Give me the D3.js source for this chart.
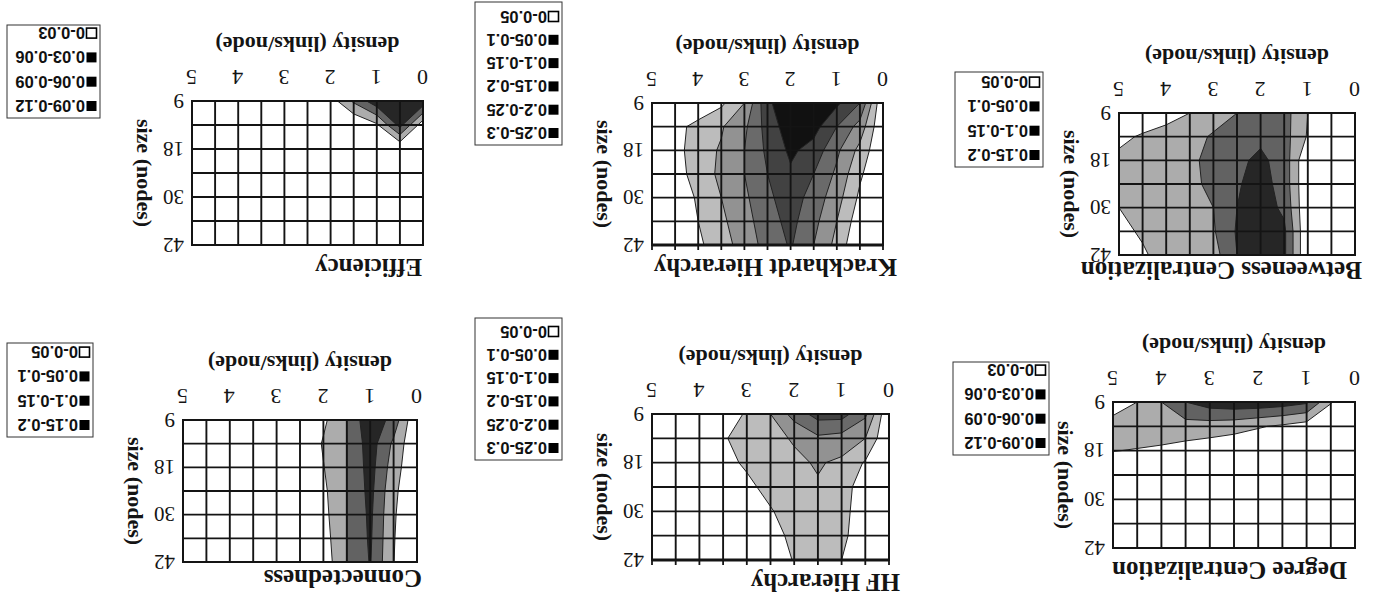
<!DOCTYPE html>
<html>
<head>
<meta charset="utf-8">
<script src="https://cdn.jsdelivr.net/npm/d3@7"></script>
<style>
  html, body { margin: 0; padding: 0; background: #ffffff; }
  svg { display: block; }
</style>
</head>
<body>
<svg id="fig" width="1376" height="607"></svg>
<script>
// Grid of the simulation: link density (links/node) by network size (nodes)
const densities = [0, 0.5, 1, 1.5, 2, 2.5, 3, 3.5, 4, 4.5, 5];
const densityTicks = [0, 1, 2, 3, 4, 5];
const sizes = ["9", "12", "18", "24", "30", "36", "42"];
const sizeTicks = ["9", "18", "30", "42"];

// Each row is one size (9 first), each column one density (0 first)
const degreeValues = [
  [0, 0.032, 0.095, 0.105, 0.11, 0.11, 0.105, 0.09, 0.06, 0.03, 0.005],
  [0, 0.005, 0.015, 0.025, 0.033, 0.042, 0.046, 0.048, 0.05, 0.05, 0.05],
  [0, 0, 0, 0, 0, 0.005, 0.012, 0.018, 0.024, 0.028, 0.031],
  [0, 0, 0, 0, 0, 0, 0, 0, 0, 0, 0],
  [0, 0, 0, 0, 0, 0, 0, 0, 0, 0, 0],
  [0, 0, 0, 0, 0, 0, 0, 0, 0, 0, 0],
  [0, 0, 0, 0, 0, 0, 0, 0, 0, 0, 0]
];
const degreeThresholds = [0.03, 0.06, 0.09];
const degreeBands = ["0-0.03", "0.03-0.06", "0.06-0.09", "0.09-0.12"];

const hfValues = [
  [0, 0.16, 0.22, 0.22, 0.17, 0.10, 0.06, 0, 0, 0, 0],
  [0, 0.10, 0.13, 0.14, 0.105, 0.085, 0.07, 0.045, 0, 0, 0],
  [0, 0.045, 0.09, 0.105, 0.09, 0.08, 0.06, 0.03, 0, 0, 0],
  [0, 0.02, 0.075, 0.095, 0.085, 0.07, 0.035, 0, 0, 0, 0],
  [0, 0.015, 0.07, 0.09, 0.08, 0.045, 0, 0, 0, 0, 0],
  [0, 0.01, 0.065, 0.085, 0.07, 0.02, 0, 0, 0, 0, 0],
  [0, 0, 0.05, 0.08, 0.055, 0, 0, 0, 0, 0, 0]
];
const hfThresholds = [0.05, 0.1, 0.15, 0.2, 0.25];
const hfBands = ["0-0.05", "0.05-0.1", "0.1-0.15", "0.15-0.2", "0.2-0.25", "0.25-0.3"];

const connValues = [
  [0, 0.13, 0.19, 0.10, 0.04, 0, 0, 0, 0, 0, 0],
  [0, 0.09, 0.175, 0.099, 0.055, 0, 0, 0, 0, 0, 0],
  [0, 0.075, 0.17, 0.099, 0.048, 0, 0, 0, 0, 0, 0],
  [0, 0.062, 0.165, 0.099, 0.04, 0, 0, 0, 0, 0, 0],
  [0, 0.056, 0.16, 0.099, 0.035, 0, 0, 0, 0, 0, 0],
  [0, 0.053, 0.157, 0.099, 0.028, 0, 0, 0, 0, 0, 0],
  [0, 0.051, 0.153, 0.099, 0.02, 0, 0, 0, 0, 0, 0]
];
const connThresholds = [0.05, 0.1, 0.15];
const connBands = ["0-0.05", "0.05-0.1", "0.1-0.15", "0.15-0.2"];

const betwValues = [
  [0, 0, 0.05, 0.12, 0.13, 0.10, 0.08, 0.05, 0.035, 0.02, 0],
  [0, 0, 0.045, 0.12, 0.14, 0.125, 0.105, 0.085, 0.065, 0.055, 0.04],
  [0, 0, 0, 0.13, 0.16, 0.14, 0.115, 0.09, 0.075, 0.07, 0.06],
  [0, 0, 0, 0.13, 0.17, 0.145, 0.11, 0.09, 0.08, 0.07, 0.06],
  [0, 0, 0, 0.14, 0.175, 0.15, 0.10, 0.085, 0.075, 0.062, 0.05],
  [0, 0, 0, 0.16, 0.18, 0.155, 0.095, 0.08, 0.07, 0.055, 0.04],
  [0, 0, 0, 0.16, 0.18, 0.15, 0.08, 0.075, 0.065, 0.045, 0.035]
];
const betwThresholds = [0.05, 0.1, 0.15];
const betwBands = ["0-0.05", "0.05-0.1", "0.1-0.15", "0.15-0.2"];

const krackValues = [
  [0, 0.2, 0.26, 0.29, 0.29, 0.24, 0.10, 0.04, 0, 0, 0],
  [0, 0.13, 0.2, 0.27, 0.28, 0.22, 0.14, 0.095, 0.07, 0.03, 0],
  [0, 0.085, 0.16, 0.23, 0.26, 0.21, 0.15, 0.105, 0.08, 0.03, 0],
  [0, 0.058, 0.14, 0.2, 0.242, 0.2, 0.15, 0.11, 0.075, 0.025, 0],
  [0, 0.04, 0.12, 0.18, 0.225, 0.19, 0.14, 0.10, 0.06, 0, 0],
  [0, 0.02, 0.10, 0.165, 0.215, 0.18, 0.13, 0.09, 0.05, 0, 0],
  [0, 0, 0.085, 0.15, 0.205, 0.17, 0.12, 0.08, 0.04, 0, 0]
];
const krackThresholds = [0.05, 0.1, 0.15, 0.2, 0.25];
const krackBands = ["0-0.05", "0.05-0.1", "0.1-0.15", "0.15-0.2", "0.2-0.25", "0.25-0.3"];

const effValues = [
  [0.11, 0.12, 0.11, 0.065, 0.015, 0, 0, 0, 0, 0, 0],
  [0.01, 0.10, 0.025, 0, 0, 0, 0, 0, 0, 0, 0],
  [0, 0, 0, 0, 0, 0, 0, 0, 0, 0, 0],
  [0, 0, 0, 0, 0, 0, 0, 0, 0, 0, 0],
  [0, 0, 0, 0, 0, 0, 0, 0, 0, 0, 0],
  [0, 0, 0, 0, 0, 0, 0, 0, 0, 0, 0],
  [0, 0, 0, 0, 0, 0, 0, 0, 0, 0, 0]
];
const effThresholds = [0.03, 0.06, 0.09];
const effBands = ["0-0.03", "0.03-0.06", "0.06-0.09", "0.09-0.12"];

// Grey ramps, lowest band first
const shades4 = ["#ffffff", "#acacac", "#626262", "#262626"];
const shades6 = ["#ffffff", "#bcbcbc", "#929292", "#6a6a6a", "#424242", "#111111"];

// Page layout of the six panels (drawn upright, the sheet is turned half a turn)
const panels = [
  { title: "Degree Centralization", values: degreeValues, thresholds: degreeThresholds, bands: degreeBands, shades: shades4,
    box: { x: 21, y: 59, w: 242, h: 146 }, titleDx: 8, titleGap: 22, edgeTicks: false,
    legend: { x: 327, y: 152, w: 96, h: 93 } },
  { title: "HF Hierarchy", values: hfValues, thresholds: hfThresholds, bands: hfBands, shades: shades6,
    box: { x: 487, y: 47, w: 237, h: 146 }, titleDx: -11, titleGap: 22, edgeTicks: true,
    legend: { x: 814, y: 147, w: 87, h: 142 } },
  { title: "Connectedness", values: connValues, thresholds: connThresholds, bands: connBands, shades: shades4,
    box: { x: 959, y: 45, w: 234, h: 142 }, titleDx: -5, titleGap: 16, edgeTicks: false,
    legend: { x: 1283, y: 170, w: 86, h: 94 } },
  { title: "Betweeness Centralization", values: betwValues, thresholds: betwThresholds, bands: betwBands, shades: shades4,
    box: { x: 21, y: 352, w: 236, h: 142 }, titleDx: -7, titleGap: 15, edgeTicks: false,
    legend: { x: 333, y: 440, w: 88, h: 95 } },
  { title: "Krackhardt Hierarchy", values: krackValues, thresholds: krackThresholds, bands: krackBands, shades: shades6,
    box: { x: 493, y: 362, w: 231, h: 142 }, titleDx: -14, titleGap: 22, edgeTicks: true,
    legend: { x: 814, y: 462, w: 87, h: 143 } },
  { title: "Efficiency", values: effValues, thresholds: effThresholds, bands: effBands, shades: shades4,
    box: { x: 953, y: 362, w: 231, h: 144 }, titleDx: 1, titleGap: 22, edgeTicks: false,
    legend: { x: 1276, y: 489, w: 93, h: 93 } }
];

const serif = "'Liberation Serif', 'Times New Roman', Times, serif";
const sans = "'Liberation Sans', Arial, Helvetica, sans-serif";
const ink = "#141414";

const svg = d3.select("#fig");
svg.append("rect").attr("width", 1376).attr("height", 607).attr("fill", "#ffffff");
const sheet = svg.append("g").attr("transform", "rotate(180 688 303.5)");

panels.forEach((p, k) => {
  const { x, y, w, h } = p.box;
  const g = sheet.append("g");

  const xScale = d3.scaleLinear()
    .domain([densities[0], densities[densities.length - 1]])
    .range([x, x + w]);
  const yScale = d3.scalePoint().domain(sizes).range([y + h, y]);
  const rowScale = d3.scaleLinear()
    .domain([0, sizes.length - 1])
    .range([yScale(sizes[0]), yScale(sizes[sizes.length - 1])]);
  const step = densities[1] - densities[0];

  // contour grid coordinates sit half a cell off the sample points
  const toPlot = d3.geoTransform({
    point(u, v) {
      this.stream.point(xScale(densities[0] + (u - 0.5) * step), rowScale(v - 0.5));
    }
  });
  const path = d3.geoPath(toPlot);

  const clipId = "plot-clip-" + k;
  g.append("clipPath").attr("id", clipId)
    .append("rect").attr("x", x).attr("y", y).attr("width", w).attr("height", h);

  g.append("rect").attr("x", x).attr("y", y).attr("width", w).attr("height", h)
    .attr("fill", p.shades[0]);

  const bandsGen = d3.contours()
    .size([densities.length, sizes.length])
    .thresholds(p.thresholds);
  const filled = bandsGen(p.values.flat());

  g.append("g").attr("clip-path", `url(#${clipId})`)
    .selectAll("path").data(filled).join("path")
    .attr("d", path)
    .attr("fill", (c, i) => p.shades[i + 1])
    .attr("stroke", "#222222")
    .attr("stroke-width", 1)
    .attr("stroke-linejoin", "round");

  // grid on top of the shading
  const grid = g.append("g").attr("stroke", ink).attr("stroke-width", 1.9);
  grid.selectAll("line.vx").data(densities).join("line").attr("class", "vx")
    .attr("x1", d => xScale(d)).attr("x2", d => xScale(d))
    .attr("y1", y).attr("y2", y + h);
  grid.selectAll("line.hz").data(sizes).join("line").attr("class", "hz")
    .attr("x1", x).attr("x2", x + w)
    .attr("y1", d => yScale(d)).attr("y2", d => yScale(d));
  g.append("rect").attr("x", x).attr("y", y).attr("width", w).attr("height", h)
    .attr("fill", "none").attr("stroke", ink).attr("stroke-width", 2);

  if (p.edgeTicks) {
    const top = yScale(sizes[sizes.length - 1]);
    g.append("line").attr("x1", x).attr("x2", x + w).attr("y1", top).attr("y2", top)
      .attr("stroke", ink).attr("stroke-width", 3);
    g.append("g").selectAll("line").data(densities).join("line")
      .attr("x1", d => xScale(d)).attr("x2", d => xScale(d))
      .attr("y1", top).attr("y2", top - 5)
      .attr("stroke", ink).attr("stroke-width", 1.8);
  }

  // axes
  const xAxis = d3.axisBottom(xScale).tickValues(densityTicks).tickSize(0).tickPadding(15)
    .tickFormat(d3.format("d"));
  const xa = g.append("g").attr("transform", `translate(0,${y + h})`).call(xAxis);
  xa.select(".domain").remove();
  xa.attr("font-family", null).attr("font-size", null);
  xa.selectAll("text").attr("font-family", serif).attr("font-size", 22).attr("fill", ink);

  const yAxis = d3.axisRight(yScale).tickValues(sizeTicks).tickSize(0).tickPadding(8);
  const ya = g.append("g").attr("transform", `translate(${x + w},0)`).call(yAxis);
  ya.select(".domain").remove();
  ya.attr("font-family", null).attr("font-size", null);
  ya.selectAll("text").attr("font-family", serif).attr("font-size", 21).attr("fill", ink);

  g.append("text")
    .attr("x", x + w / 2).attr("y", y + h + 64)
    .attr("text-anchor", "middle")
    .attr("font-family", serif).attr("font-weight", "bold").attr("font-size", 22).attr("fill", ink)
    .text("density (links/node)");

  g.append("text")
    .attr("transform", `translate(${x + w + 55},${y + h / 2}) rotate(-90)`)
    .attr("text-anchor", "middle")
    .attr("font-family", serif).attr("font-weight", "bold").attr("font-size", 22).attr("fill", ink)
    .text("size (nodes)");

  g.append("text")
    .attr("x", x + p.titleDx).attr("y", y - p.titleGap + 8.5)
    .attr("font-family", serif).attr("font-weight", "bold").attr("font-size", 25).attr("fill", ink)
    .text(p.title);

  // legend, highest band on top
  const L = p.legend;
  const lg = sheet.append("g");
  lg.append("rect").attr("x", L.x).attr("y", L.y).attr("width", L.w).attr("height", L.h)
    .attr("fill", "#ffffff").attr("stroke", "#333333").attr("stroke-width", 1);
  const items = p.bands.map((label, i) => ({ label, band: i })).reverse();
  const gap = items.length > 4 ? 23.3 : 24.3;
  const rows = lg.selectAll("g.item").data(items).join("g").attr("class", "item")
    .attr("transform", (d, i) => `translate(${L.x + 3},${L.y + 12 + i * gap})`);
  rows.append("rect")
    .attr("x", 0.5).attr("y", -5).attr("width", 10).attr("height", 10)
    .attr("fill", d => d.band === 0 ? "#ffffff" : "#000000")
    .attr("stroke", "#000000").attr("stroke-width", d => d.band === 0 ? 1.6 : 0);
  rows.append("text")
    .attr("x", 12).attr("y", 0).attr("dy", "0.36em")
    .attr("font-family", sans).attr("font-weight", "bold").attr("font-size", 16.5).attr("fill", "#111111")
    .text(d => d.label);
});
</script>
</body>
</html>
